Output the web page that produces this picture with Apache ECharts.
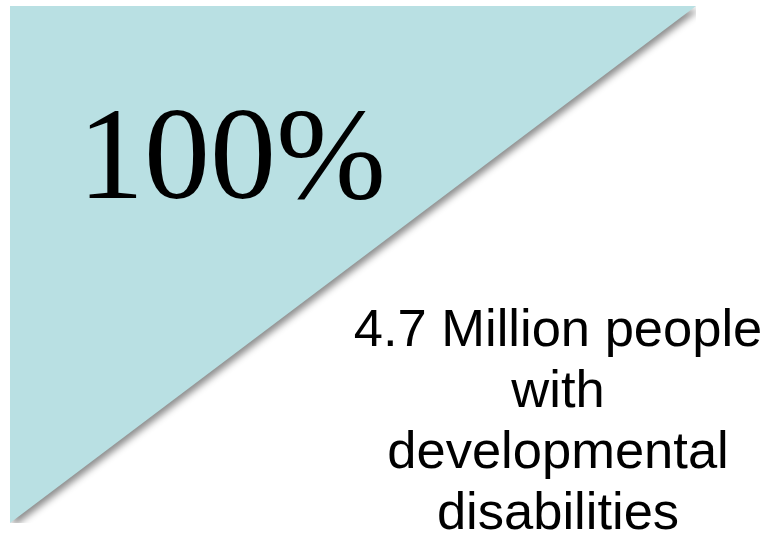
<!DOCTYPE html>
<html>
<head>
<meta charset="utf-8">
<script src="https://cdn.jsdelivr.net/npm/echarts@6/dist/echarts.min.js"></script>
<style>html,body{margin:0;padding:0;background:#fff}#c{width:770px;height:543px}</style>
</head>
<body>
<div id="c"></div>
<script>
// Data
const sharePercent = [100];
const triangleX = [0, 1];
const triangleY = [0, 1];
const captionLines = ['4.7 Million people', 'with', 'developmental', 'disabilities'];

const chart = echarts.init(document.getElementById('c'));
chart.setOption({
  backgroundColor: '#ffffff',
  animation: false,
  grid: { left: 10, top: 6, right: 74, bottom: 20 },
  xAxis: { type: 'value', min: 0, max: 1, show: false },
  yAxis: { type: 'value', min: 0, max: 1, show: false },
  series: [{
    type: 'line',
    data: triangleX.map((x, i) => [x, triangleY[i]]),
    symbol: 'none',
    lineStyle: { width: 0, opacity: 0 },
    areaStyle: {
      origin: 'end',
      color: '#B9E0E3',
      opacity: 1,
      shadowColor: 'rgba(0,0,0,0.45)',
      shadowBlur: 7,
      shadowOffsetX: 3,
      shadowOffsetY: 4
    }
  }],
  graphic: [
    {
      type: 'text',
      z: 100,
      x: 78,
      y: 229,
      style: {
        text: sharePercent[0] + '%',
        font: 'normal 132px "Liberation Serif", serif',
        fill: '#000',
        align: 'left',
        verticalAlign: 'bottom'
      }
    },
    {
      type: 'text',
      z: 100,
      x: 558,
      y: 301,
      style: {
        text: captionLines.join('\n'),
        font: 'normal 52.5px "Liberation Sans", Arial, sans-serif',
        lineHeight: 61,
        align: 'center',
        verticalAlign: 'top',
        fill: '#000'
      }
    }
  ]
});
</script>
</body>
</html>
